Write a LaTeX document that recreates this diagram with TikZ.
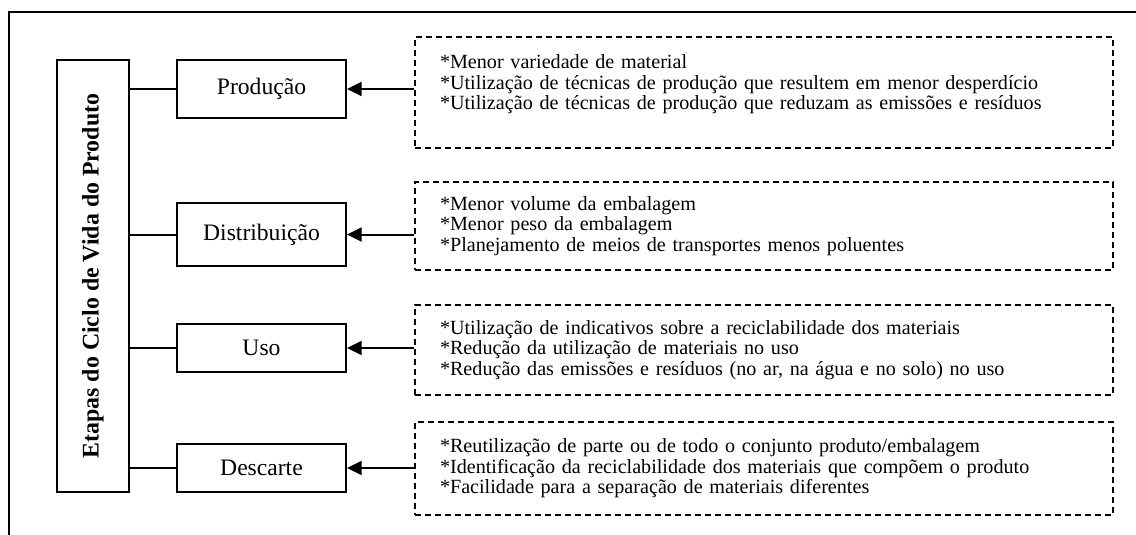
\documentclass[tikz,border=0pt]{standalone}
\usepackage{fontspec}
\setmainfont{Liberation Serif}
\usetikzlibrary{arrows.meta}

\begin{document}
\begin{tikzpicture}[x=0.75pt, y=-0.75pt, line width=1.5pt,
		etapa/.style={draw, minimum width=126.75pt, font=\fontsize{17.7}{20}\selectfont},
		lista/.style={draw, dash pattern=on 4.5pt off 3pt, text width=486pt, inner xsep=18.75pt, align=left, font=\fontsize{15.1}{15.4}\selectfont},
		seta/.style={-{Triangle[length=11pt, width=10.5pt]}}]
		\useasboundingbox (0,0) rectangle (1136,535);
		\draw (1136,12) -- (9,12) -- (9,535);
		
		\node[draw, rotate=90, minimum width=324pt, minimum height=54pt, font=\bfseries\fontsize{17.9}{20}\selectfont] (ciclo) at (93,276) {Etapas do Ciclo de Vida do Produto};
		
		\node[etapa, minimum height=43.5pt] (prod) at (261.5,89) {Produção};
		\node[etapa, minimum height=47.25pt] (dist) at (261.5,234.5) {Distribuição};
		\node[etapa, minimum height=36pt] (uso) at (261.5,348) {Uso};
		\node[etapa, minimum height=36pt] (desc) at (261.5,468) {Descarte};
		
		\node[lista, minimum height=83.25pt] (lprod) at (764,92.5) {*Menor variedade de material\\{}*Utilização de técnicas de produção que resultem em menor desperdício\\{}*Utilização de técnicas de produção que reduzam as emissões e resíduos\\{}\mbox{}};
		\node[lista, minimum height=66pt] (ldist) at (764,226) {*Menor volume da embalagem\\{}*Menor peso da embalagem\\{}*Planejamento de meios de transportes menos poluentes};
		\node[lista, minimum height=67.5pt] (luso) at (764,350) {*Utilização de indicativos sobre a reciclabilidade dos materiais\\{}*Redução da utilização de materiais no uso\\{}*Redução das emissões e resíduos (no ar, na água e no solo) no uso};
		\node[lista, minimum height=69.75pt] (ldesc) at (764,468.5) {*Reutilização de parte ou de todo o conjunto produto/embalagem\\{}*Identificação da reciclabilidade dos materiais que compõem o produto\\{}*Facilidade para a separação de materiais diferentes};
		
		\foreach \e in {prod, dist, uso, desc} {
			\draw (ciclo.south |- \e.west) -- (\e.west);
		}
		\draw[seta] (lprod.west |- prod.east) -- (prod.east);
		\draw[seta] (ldist.west |- dist.east) -- (dist.east);
		\draw[seta] (luso.west |- uso.east) -- (uso.east);
		\draw[seta] (ldesc.west |- desc.east) -- (desc.east);
	\end{tikzpicture}
\end{document}
